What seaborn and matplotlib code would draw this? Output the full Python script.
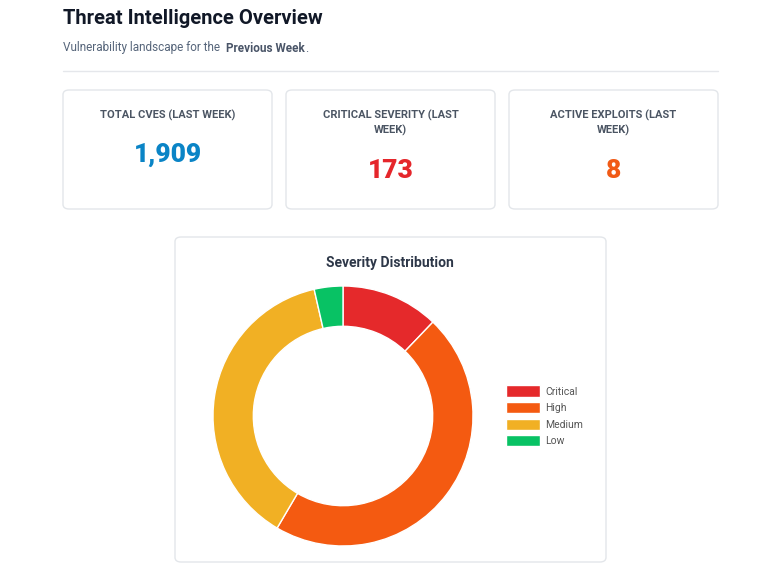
import matplotlib.pyplot as plt
import seaborn as sns
from matplotlib.patches import FancyBboxPatch, Patch
from matplotlib.lines import Line2D

# data
card_labels = ["TOTAL CVES (LAST WEEK)", "CRITICAL SEVERITY (LAST\nWEEK)", "ACTIVE EXPLOITS (LAST\nWEEK)"]
card_values = ["1,909", "173", "8"]
card_colors = ["#0a84c6", "#e5262b", "#f15a16"]
severities = ["Critical", "High", "Medium", "Low"]
counts = [232, 884, 725, 68]
sev_colors = ["#e5292b", "#f45a11", "#f1b024", "#08c264"]

sns.set_theme(style="white")
plt.rcParams['font.family'] = ['Roboto', 'DejaVu Sans']

W, H = 768, 579
fig = plt.figure(figsize=(W / 100, H / 100), dpi=100)
fig.patch.set_facecolor("white")

def fx(x):
    return x / W

def fy(y):
    return 1 - y / H

def card(x0, y0, x1, y1):
    fig.patches.append(FancyBboxPatch((fx(x0), fy(y1)), fx(x1 - x0), (y1 - y0) / H,
                                      boxstyle="round,pad=0,rounding_size=0.008",
                                      transform=fig.transFigure, facecolor="white",
                                      edgecolor="#e3e6ea", linewidth=1, zorder=0))

fig.text(fx(63), fy(19), "Threat Intelligence Overview", fontsize=14.5, fontweight="bold",
         color="#111827", va="center")
renderer = fig.canvas.get_renderer()
x = 63
for s, wgt, col in [("Vulnerability landscape for the ", "normal", "#56657a"),
                    ("Previous Week", "bold", "#4a5568"), (".", "normal", "#56657a")]:
    t = fig.text(fx(x), fy(48), s, fontsize=8.5, color=col, fontweight=wgt, va="center")
    x += t.get_window_extent(renderer).width + (3 if s.endswith(" ") else 0)
fig.lines.append(Line2D([fx(63), fx(718)], [fy(71), fy(71)], transform=fig.transFigure,
                        color="#e5e7eb", linewidth=1))

xs = [(63, 272), (286, 495), (509, 718)]
for (x0, x1), lab, val, col in zip(xs, card_labels, card_values, card_colors):
    card(x0, 90, x1, 209)
    cx = (x0 + x1) / 2
    two = "\n" in lab
    fig.text(fx(cx), fy(123 if two else 115), lab, fontsize=8, fontweight="bold", color="#4b5563",
             ha="center", va="center", linespacing=1.5)
    fig.text(fx(cx), fy(171 if two else 155), val, fontsize=19, fontweight="heavy", color=col,
             ha="center", va="center")

card(175, 237, 606, 562)
fig.text(fx(390), fy(263), "Severity Distribution", fontsize=10, fontweight="bold",
         color="#2d3748", ha="center", va="center")

R = 135
ax = fig.add_axes([fx(343 - R), fy(416 + R), 2 * R / W, 2 * R / H], zorder=3)
ax.patch.set_visible(False)
ax.pie(counts, colors=sev_colors, startangle=90, counterclock=False, radius=1,
       wedgeprops=dict(width=0.31, edgecolor="white", linewidth=1))
ax.set_xlim(-R / 130, R / 130)
ax.set_ylim(-R / 130, R / 130)
ax.set_aspect("equal")
ax.axis("off")

handles = [Patch(facecolor=c, edgecolor="white", label=s) for s, c in zip(severities, sev_colors)]
fig.legend(handles=handles, loc="upper left", bbox_to_anchor=(fx(497), fy(376)), frameon=False,
           fontsize=7.5, handlelength=3.2, handleheight=1.3, labelspacing=0.5, labelcolor="#555555",
           handletextpad=0.5)

fig.savefig("out.png", dpi=100, facecolor="white")
